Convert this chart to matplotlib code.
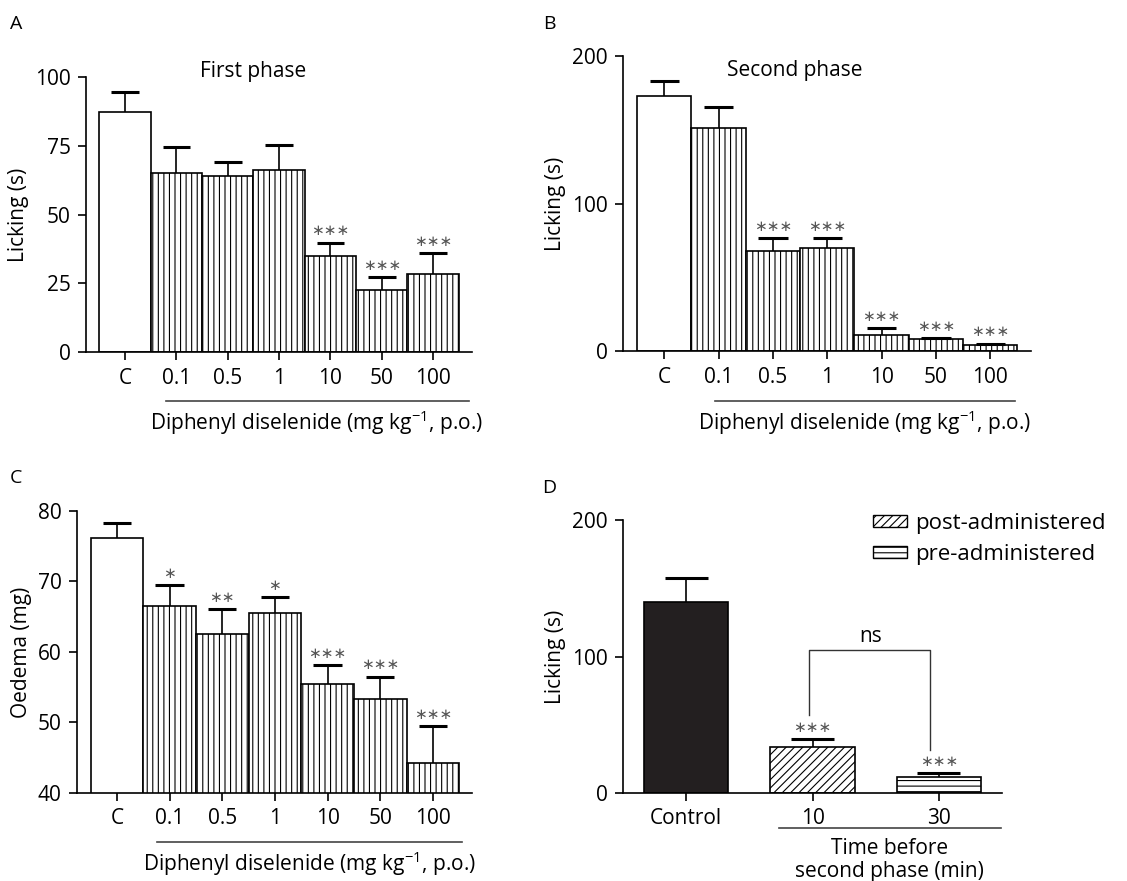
import numpy as np
import matplotlib
matplotlib.use("Agg")
import matplotlib.pyplot as plt
from matplotlib.patches import Patch

plt.rcParams['font.family'] = ['Open Sans', 'DejaVu Sans']
plt.rcParams['mathtext.fontset'] = 'custom'
plt.rcParams['mathtext.rm'] = 'Open Sans'
plt.rcParams['mathtext.default'] = 'regular'
plt.rcParams['hatch.linewidth'] = 0.8
plt.rcParams['axes.linewidth'] = 1.2

# data
doses = ['C', '0.1', '0.5', '1', '10', '50', '100']

first_mean = [87.2, 65.2, 64.1, 66.3, 35.1, 22.6, 28.3]
first_sem = [7.1, 9.2, 5.1, 9.0, 4.7, 4.8, 7.6]
first_stars = ['', '', '', '', '***', '***', '***']

second_mean = [172.9, 150.9, 68.1, 69.9, 11.0, 8.1, 4.5]
second_sem = [10.2, 14.6, 8.6, 6.8, 5.0, 1.1, 0.7]
second_stars = ['', '', '***', '***', '***', '***', '***']

oedema_mean = [76.2, 66.5, 62.5, 65.6, 55.4, 53.3, 44.2]
oedema_sem = [2.1, 3.0, 3.6, 2.2, 2.8, 3.2, 5.3]
oedema_stars = ['', '*', '**', '*', '***', '***', '***']

time_labels = ['Control', '10', '30']
time_mean = [140.3, 33.5, 12.0]
time_sem = [17.2, 6.3, 2.9]
time_stars = ['', '***', '***']

FS = 15
STAR = '#555555'
dose_label = 'Diphenyl diselenide (mg kg$^{-1}$, p.o.)'


def style_axes(ax):
    ax.spines['top'].set_visible(False)
    ax.spines['right'].set_visible(False)
    ax.tick_params(direction='out', length=6, width=1.2, labelsize=FS, pad=5)


def add_errors(ax, x, mean, sem, half):
    top = mean + sem
    ax.vlines(x, mean, top, color='black', lw=1.2, zorder=3)
    ax.hlines(top, x - half, x + half, color='black', lw=2.2, zorder=3)


def add_stars(ax, x, tops, stars, size=11):
    for xi, t, s in zip(x, tops, stars):
        if s:
            ax.annotate('\u2217' * len(s), (xi, t), xytext=(0, 3),
                        textcoords='offset points', ha='center', va='bottom',
                        fontsize=size, color=STAR, family='DejaVu Sans')


def dose_panel(ax, mean, sem, stars, ylim, yticks, ylabel):
    mean = np.array(mean)
    sem = np.array(sem)
    x = np.arange(len(mean))
    ax.bar(x[:1], mean[:1], width=1.0, color='white', edgecolor='black', lw=1.2,
           zorder=2)
    ax.bar(x[1:], mean[1:], width=1.0, color='white', edgecolor='black', lw=1.2,
           hatch='|||', zorder=2)
    add_errors(ax, x, mean, sem, 0.27)
    add_stars(ax, x, mean + sem, stars)
    ax.set_xlim(-0.76, 6.75)
    ax.set_ylim(*ylim)
    ax.set_yticks(yticks)
    ax.set_xticks(x)
    ax.set_xticklabels(doses)
    ax.set_ylabel(ylabel, fontsize=FS)
    style_axes(ax)


fig = plt.figure(figsize=(11.27, 8.81), dpi=100)
axA = fig.add_axes([0.0763, 0.6001, 0.3422, 0.3128])
axB = fig.add_axes([0.5528, 0.6012, 0.3620, 0.3355])
axC = fig.add_axes([0.0683, 0.0999, 0.3508, 0.3201])
axD = fig.add_axes([0.5528, 0.0999, 0.3363, 0.3095])

dose_panel(axA, first_mean, first_sem, first_stars, (0, 100), [0, 25, 50, 75, 100],
           'Licking (s)')
axA.text(2.5, 102, 'First phase', ha='center', va='center', fontsize=FS)
dose_panel(axB, second_mean, second_sem, second_stars, (0, 200), [0, 100, 200],
           'Licking (s)')
axB.text(2.4, 190, 'Second phase', ha='center', va='center', fontsize=FS)
dose_panel(axC, oedema_mean, oedema_sem, oedema_stars, (40, 80), [40, 50, 60, 70, 80],
           'Oedema (mg)')

# group line + label under the dose axes
for ax, (x0, x1, yl, xt, yt) in [(axA, (0.80, 6.70, -0.177, 3.73, -0.255)),
                                  (axB, (0.94, 6.45, -0.168, 3.68, -0.242)),
                                  (axC, (0.755, 6.55, -0.173, 3.65, -0.249))]:
    tr = ax.get_xaxis_transform()
    ax.plot([x0, x1], [yl, yl], color='#444444', lw=1.2, transform=tr, clip_on=False)
    ax.text(xt, yt, dose_label, transform=tr, ha='center', va='center', fontsize=FS)

# panel D
tm = np.array(time_mean)
ts = np.array(time_sem)
xd = np.arange(3)
axD.bar(xd[0], tm[0], width=0.67, color='#231f20', edgecolor='black', lw=1.2, zorder=2)
axD.bar(xd[1], tm[1], width=0.67, color='white', edgecolor='black', lw=1.2,
        hatch='////', zorder=2)
axD.bar(xd[2], tm[2], width=0.67, color='white', edgecolor='black', lw=1.2,
        hatch='---', zorder=2)
add_errors(axD, xd, tm, ts, 0.17)
add_stars(axD, xd, tm + ts, time_stars)
axD.set_xlim(-0.5, 2.5)
axD.set_ylim(0, 200)
axD.set_yticks([0, 100, 200])
axD.set_xticks(xd)
axD.set_xticklabels(time_labels)
axD.set_ylabel('Licking (s)', fontsize=FS)
style_axes(axD)

# ns bracket
axD.plot([0.97, 0.97, 1.93, 1.93], [57.2, 104.9, 104.9, 31.5], color='#333333', lw=1.0)
axD.text(1.46, 115, 'ns', ha='center', va='center', fontsize=FS)

trD = axD.get_xaxis_transform()
axD.plot([0.735, 2.495], [-0.127, -0.127], color='#444444', lw=1.2, transform=trD,
         clip_on=False)
axD.text(1.61, -0.202, 'Time before', transform=trD, ha='center', va='center', fontsize=FS)
axD.text(1.61, -0.289, 'second phase (min)', transform=trD, ha='center', va='center',
         fontsize=FS)

handles = [Patch(facecolor='white', edgecolor='black', hatch='////', lw=1.0,
                 label='post-administered'),
           Patch(facecolor='white', edgecolor='black', hatch='---', lw=1.0,
                 label='pre-administered')]
fig.legend(handles=handles, loc='upper left', bbox_to_anchor=(873 / 1127, 1 - 513 / 881),
           frameon=False, fontsize=16, handlelength=1.55, handleheight=0.5,
           handletextpad=0.35, labelspacing=0.45, borderpad=0, borderaxespad=0)

# panel letters
for letter, (px, py) in {'A': (16, 24), 'B': (549, 24), 'C': (16, 478), 'D': (549, 488)}.items():
    fig.text(px / 1127, 1 - py / 881, letter, ha='center', va='center', fontsize=14)

fig.savefig('out.png', dpi=100)
